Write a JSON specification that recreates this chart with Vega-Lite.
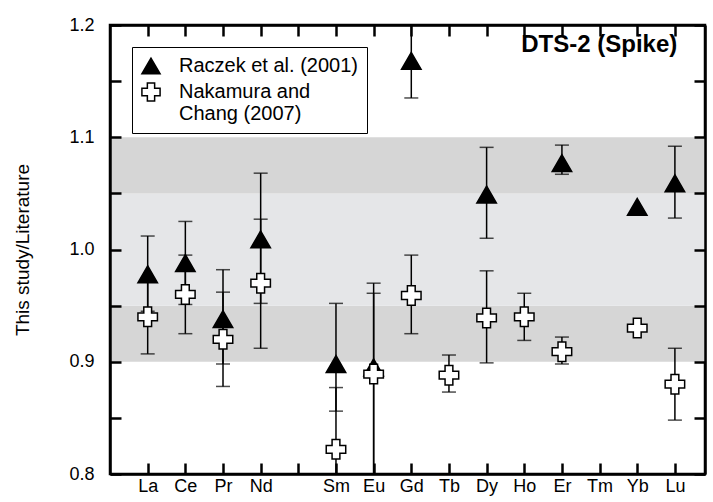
{
  "$schema": "https://vega.github.io/schema/vega-lite/v6.json",
  "width": 595,
  "height": 449,
  "autosize": {"type": "none"},
  "padding": {"left": 110, "top": 25, "right": 8, "bottom": 28},
  "title": {"text": "DTS-2 (Spike)", "anchor": "end", "orient": "top", "offset": 0, "baseline": "middle", "dx": -29, "dy": 53,
    "font": "Liberation Sans", "fontSize": 24, "fontWeight": "bold", "color": "black"},
  "config": {
    "view": {"stroke": "#000000", "strokeWidth": 2.5},
    "axis": {"domainColor": "#000000", "domainWidth": 2.5, "tickColor": "#000000", "tickWidth": 2.5, "tickSize": -11, "grid": false, "labelFontSize": 18, "labelFont": "Liberation Sans"},
    "legend": {
      "orient": "top-left", "offset": 22, "padding": 9,
      "labelFont": "Liberation Sans", "labelFontSize": 20, "labelColor": "black",
      "labelOffset": 18, "rowPadding": 2, "symbolSize": 330, "symbolStrokeWidth": 1.5,
      "strokeColor": "black", "labelLimit": 400
    }
  },
  "datasets": {
    "bands": [
      {"lo": 0.9, "hi": 0.95, "zone": "outer"},
      {"lo": 0.95, "hi": 1.05, "zone": "inner"},
      {"lo": 1.05, "hi": 1.1, "zone": "outer"}
    ],
    "pts": [
      {"el": "La", "series": "Raczek et al. (2001)", "val": 0.978, "lo": 0.945, "hi": 1.012},
      {"el": "Ce", "series": "Raczek et al. (2001)", "val": 0.988, "lo": 0.951, "hi": 1.025},
      {"el": "Pr", "series": "Raczek et al. (2001)", "val": 0.938, "lo": 0.898, "hi": 0.982},
      {"el": "Nd", "series": "Raczek et al. (2001)", "val": 1.009, "lo": 0.952, "hi": 1.068},
      {"el": "Sm", "series": "Raczek et al. (2001)", "val": 0.898, "lo": 0.856, "hi": 0.952},
      {"el": "Eu", "series": "Raczek et al. (2001)", "val": 0.895, "lo": 0.8, "hi": 0.97},
      {"el": "Gd", "series": "Raczek et al. (2001)", "val": 1.168, "lo": 1.135, "hi": 1.2},
      {"el": "Dy", "series": "Raczek et al. (2001)", "val": 1.049, "lo": 1.01, "hi": 1.091},
      {"el": "Er", "series": "Raczek et al. (2001)", "val": 1.077, "lo": 1.067, "hi": 1.093},
      {"el": "Yb", "series": "Raczek et al. (2001)", "val": 1.038, "lo": null, "hi": null},
      {"el": "Lu", "series": "Raczek et al. (2001)", "val": 1.059, "lo": 1.028, "hi": 1.092},
      {"el": "La", "series": "Nakamura and Chang (2007)", "val": 0.94, "lo": 0.907, "hi": 0.973},
      {"el": "Ce", "series": "Nakamura and Chang (2007)", "val": 0.96, "lo": 0.925, "hi": 0.995},
      {"el": "Pr", "series": "Nakamura and Chang (2007)", "val": 0.92, "lo": 0.878, "hi": 0.962},
      {"el": "Nd", "series": "Nakamura and Chang (2007)", "val": 0.97, "lo": 0.912, "hi": 1.027},
      {"el": "Sm", "series": "Nakamura and Chang (2007)", "val": 0.822, "lo": 0.8, "hi": 0.877},
      {"el": "Eu", "series": "Nakamura and Chang (2007)", "val": 0.889, "lo": 0.8, "hi": 0.961},
      {"el": "Gd", "series": "Nakamura and Chang (2007)", "val": 0.959, "lo": 0.925, "hi": 0.995},
      {"el": "Tb", "series": "Nakamura and Chang (2007)", "val": 0.888, "lo": 0.873, "hi": 0.906},
      {"el": "Dy", "series": "Nakamura and Chang (2007)", "val": 0.939, "lo": 0.899, "hi": 0.981},
      {"el": "Ho", "series": "Nakamura and Chang (2007)", "val": 0.94, "lo": 0.919, "hi": 0.961},
      {"el": "Er", "series": "Nakamura and Chang (2007)", "val": 0.909, "lo": 0.898, "hi": 0.922},
      {"el": "Yb", "series": "Nakamura and Chang (2007)", "val": 0.93, "lo": null, "hi": null},
      {"el": "Lu", "series": "Nakamura and Chang (2007)", "val": 0.88, "lo": 0.848, "hi": 0.912}
    ]
  },
  "layer": [
    {
      "data": {"name": "bands"},
      "mark": {"type": "rect"},
      "encoding": {
        "y": {"field": "lo", "type": "quantitative", "scale": {"domain": [0.8, 1.2], "zero": false, "nice": false}, "axis": null},
        "y2": {"field": "hi"},
        "color": {"field": "zone", "type": "nominal", "scale": {"domain": ["outer", "inner"], "range": ["#d6d6d6", "#e5e6e8"]}, "legend": null}
      }
    },
    {
      "mark": {"type": "rule", "strokeDash": [5, 4], "color": "#999999", "strokeWidth": 1.5},
      "encoding": {
        "y": {"datum": 1.0, "type": "quantitative", "axis": null}
      }
    },
    {
      "data": {"name": "pts"},
      "transform": [{"filter": "isValid(datum.lo)"}],
      "mark": {"type": "rule", "color": "black", "strokeWidth": 1.5},
      "encoding": {
        "x": {"field": "el", "type": "nominal", "axis": {"orient": "top", "labels": false, "title": null, "zindex": 1},
          "scale": {"type": "point", "domain": ["La", "Ce", "Pr", "Nd", "Pm", "Sm", "Eu", "Gd", "Tb", "Dy", "Ho", "Er", "Tm", "Yb", "Lu"], "padding": 0.9, "align": 0.556}},
        "y": {"field": "lo", "type": "quantitative", "axis": {"orient": "right", "labels": false, "title": null, "zindex": 1, "values": [0.8, 0.85, 0.9, 0.95, 1.0, 1.05, 1.1, 1.15, 1.2]}},
        "y2": {"field": "hi"}
      }
    },
    {
      "data": {"name": "pts"},
      "transform": [{"filter": "isValid(datum.lo) && datum.lo > 0.801"}],
      "mark": {"type": "tick", "color": "black", "thickness": 1.5, "size": 14, "orient": "horizontal"},
      "encoding": {
        "x": {"field": "el", "type": "nominal", "axis": null},
        "y": {"field": "lo", "type": "quantitative", "axis": null}
      }
    },
    {
      "data": {"name": "pts"},
      "transform": [{"filter": "isValid(datum.hi) && datum.hi < 1.199"}],
      "mark": {"type": "tick", "color": "black", "thickness": 1.5, "size": 14, "orient": "horizontal"},
      "encoding": {
        "x": {"field": "el", "type": "nominal", "axis": null},
        "y": {"field": "hi", "type": "quantitative", "axis": null}
      }
    },
    {
      "data": {"name": "pts"},
      "mark": {"type": "point", "filled": true, "strokeWidth": 1.5, "opacity": 1, "size": 380},
      "encoding": {
        "x": {"field": "el", "type": "nominal", "axis": {"orient": "bottom", "title": null, "labelAngle": 0, "labelPadding": 14, "zindex": 1,
          "labelExpr": "datum.value == 'Pm' ? '' : datum.value"}},
        "y": {"field": "val", "type": "quantitative",
          "axis": {"orient": "left", "title": "This study/Literature", "titleFont": "Liberation Sans", "titleFontSize": 19, "titleFontWeight": "normal", "titlePadding": 36, "zindex": 1,
            "values": [0.8, 0.85, 0.9, 0.95, 1.0, 1.05, 1.1, 1.15, 1.2], "labelPadding": 27,
            "labelExpr": "abs(datum.value * 10 - round(datum.value * 10)) < 0.01 ? format(datum.value, '.1f') : ''"}},
        "shape": {"field": "series", "type": "nominal", "scale": {"domain": ["Raczek et al. (2001)", "Nakamura and Chang (2007)"], "range": ["triangle-up", "cross"]},
          "legend": {"title": null, "labelExpr": "datum.label == 'Nakamura and Chang (2007)' ? ['Nakamura and', 'Chang (2007)'] : datum.label",
            "encode": {"legend": {"update": {"strokeWidth": {"value": 2}}}, "labels": {"update": {"lineHeight": {"value": 23}}}}}},
        "fill": {"field": "series", "type": "nominal", "scale": {"domain": ["Raczek et al. (2001)", "Nakamura and Chang (2007)"], "range": ["black", "white"]},
          "legend": {"title": null, "labelExpr": "datum.label == 'Nakamura and Chang (2007)' ? ['Nakamura and', 'Chang (2007)'] : datum.label",
            "encode": {"legend": {"update": {"strokeWidth": {"value": 2}}}, "labels": {"update": {"lineHeight": {"value": 23}}}}}},
        "stroke": {"field": "series", "type": "nominal", "scale": {"domain": ["Raczek et al. (2001)", "Nakamura and Chang (2007)"], "range": ["black", "black"]},
          "legend": {"title": null, "labelExpr": "datum.label == 'Nakamura and Chang (2007)' ? ['Nakamura and', 'Chang (2007)'] : datum.label",
            "encode": {"legend": {"update": {"strokeWidth": {"value": 2}}}, "labels": {"update": {"lineHeight": {"value": 23}}}}}}
      }
    }
  ],
  "resolve": {"axis": {"x": "independent", "y": "independent"}}
}
